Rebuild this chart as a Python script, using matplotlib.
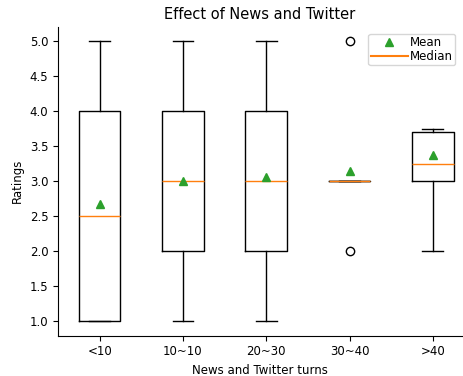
import matplotlib
matplotlib.use("Agg")
import matplotlib.pyplot as plt
from matplotlib.lines import Line2D

# box statistics
groups = ['<10', '10~10', '20~30', '30~40', '>40']
whislo = [1.0, 1.0, 1.0, 3.0, 2.0]
q1 = [1.0, 2.0, 2.0, 3.0, 3.0]
med = [2.5, 3.0, 3.0, 3.0, 3.25]
q3 = [4.0, 4.0, 4.0, 3.0, 3.7]
whishi = [5.0, 5.0, 5.0, 3.0, 3.75]
means = [2.68, 3.0, 3.06, 3.14, 3.38]
fliers = [[], [], [], [2.0, 5.0], []]

stats = []
for i in range(len(groups)):
    stats.append({'label': groups[i], 'whislo': whislo[i], 'q1': q1[i], 'med': med[i],
                  'q3': q3[i], 'whishi': whishi[i], 'mean': means[i], 'fliers': fliers[i]})

fig = plt.figure(figsize=(4.63, 3.76), dpi=100)
ax = fig.add_axes([58 / 463, 1 - 335.5 / 376, 404 / 463, 308.5 / 376])

ax.bxp(stats, showmeans=True, widths=0.5)

ax.set_xlim(0.5, 5.35)
ax.set_ylim(0.8, 5.2)
ax.spines['top'].set_visible(False)
ax.spines['right'].set_visible(False)
ax.set_title('Effect of News and Twitter', fontsize=10.5)
ax.set_xlabel('News and Twitter turns', fontsize=8.5)
ax.set_ylabel('Ratings', fontsize=8.5)
ax.tick_params(labelsize=8.5)

handles = [Line2D([], [], marker='^', color='tab:green', linestyle='None', label='Mean'),
           Line2D([], [], color='tab:orange', label='Median')]
ax.legend(handles=handles, loc='upper right', fontsize=8.5, handlelength=3.2,
          borderpad=0.2, labelspacing=0.05, handletextpad=0.1, borderaxespad=0.6)

fig.savefig('out.png', dpi=100)
